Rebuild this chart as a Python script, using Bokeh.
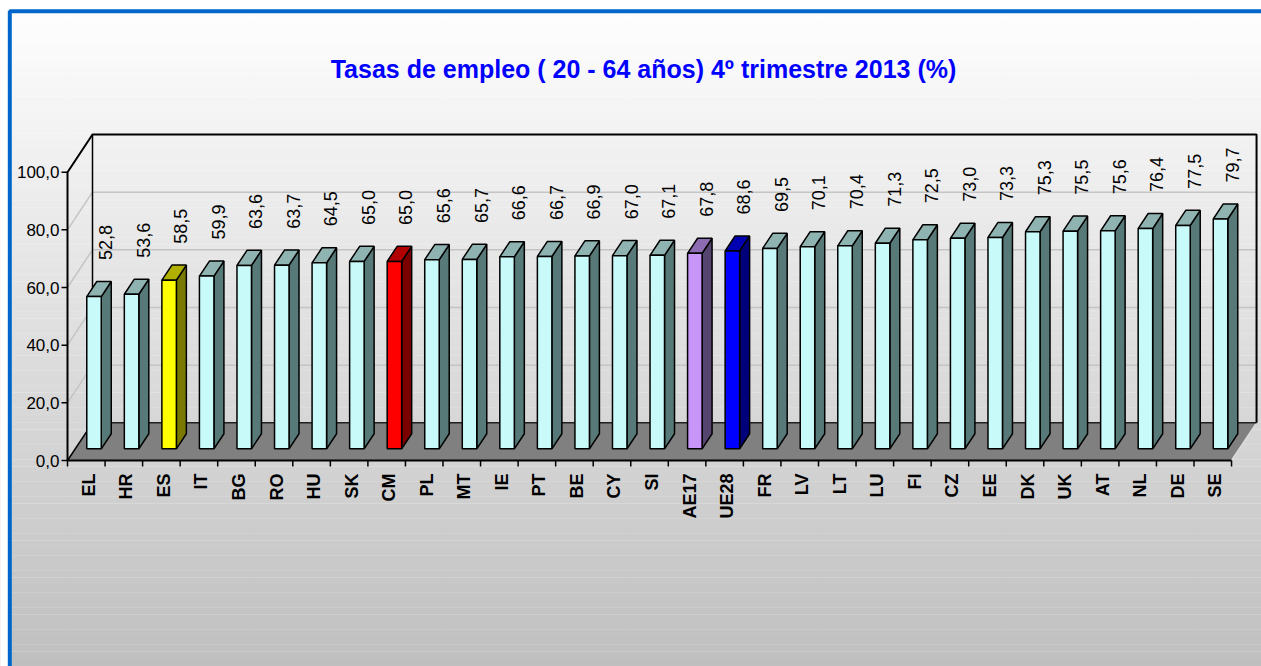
import math
from bokeh.plotting import figure
from bokeh.models import Range1d
from bokeh.embed import file_html
from bokeh.resources import INLINE
from bokeh.core.properties import value

# ---------------- data ----------------
countries = ["EL", "HR", "ES", "IT", "BG", "RO", "HU", "SK", "CM", "PL", "MT", "IE",
             "PT", "BE", "CY", "SI", "AE17", "UE28", "FR", "LV", "LT", "LU", "FI",
             "CZ", "EE", "DK", "UK", "AT", "NL", "DE", "SE"]
rates = [52.8, 53.6, 58.5, 59.9, 63.6, 63.7, 64.5, 65.0, 65.0, 65.6, 65.7, 66.6,
         66.7, 66.9, 67.0, 67.1, 67.8, 68.6, 69.5, 70.1, 70.4, 71.3, 72.5,
         73.0, 73.3, 75.3, 75.5, 75.6, 76.4, 77.5, 79.7]
highlight = {"ES": "yellow", "CM": "red", "AE17": "lavender", "UE28": "blue"}
y_ticks = [0, 20, 40, 60, 80, 100]
y_tick_labels = ["0,0", "20,0", "40,0", "60,0", "80,0", "100,0"]
title_text = "Tasas de empleo ( 20 - 64 años) 4º trimestre 2013 (%)"

# ---------------- layout (page pixels) ----------------
W, H = 1261, 666
OX, OY = 0, 0
X0_PX, CAT_PX = 67.0, 37.55        # front-left corner, width of a category slot
Y0_PX, VAL_PX = 460.0, 2.883       # front floor line, pixels per %
DEPTH_DX_PX, DEPTH_DY_PX = 25.0, 37.7
BAR_W = 0.386                      # in category units
BAR_D0, BAR_D1 = 0.31, 0.71        # depth fractions of bar front/back
YMAX = 100

DX = DEPTH_DX_PX / CAT_PX
DY = DEPTH_DY_PX / VAL_PX
N = len(countries)


def px_x(px):
    return (px - X0_PX) / CAT_PX


def px_y(py):
    return (Y0_PX - py) / VAL_PX


FONT = "Liberation Sans"

p = figure(width=W, height=H, output_backend="svg", toolbar_location=None,
           x_range=Range1d(px_x(OX), px_x(OX + W)),
           y_range=Range1d(px_y(OY + H), px_y(OY)),
           x_axis_location=None, y_axis_location=None, min_border=0)
p.outline_line_color = None
p.background_fill_color = "white"
p.border_fill_color = "white"

# ---------------- background gradient ----------------
nb = 90
tops, bots, cols = [], [], []
for i in range(nb):
    y_a = OY + H * i / nb
    y_b = OY + H * (i + 1) / nb
    t = ((y_a + y_b) / 2 - 10) / (666 - 10)
    g = int(round(254 - t * 63))
    g = max(0, min(255, g))
    tops.append(px_y(y_a))
    bots.append(px_y(y_b) - 0.05)
    cols.append("#%02x%02x%02x" % (g, g, g))
p.quad(left=px_x(OX), right=px_x(OX + W), top=tops, bottom=bots,
       fill_color=cols, line_color=None)
# white strip outside the chart frame (left / top)
p.quad(left=px_x(OX), right=px_x(8), top=px_y(OY), bottom=px_y(OY + H),
       fill_color="white", line_color=None)
p.quad(left=px_x(OX), right=px_x(OX + W), top=px_y(OY), bottom=px_y(9),
       fill_color="white", line_color=None)

# ---------------- walls, grid, floor ----------------
grid_vals = [v for v in y_ticks if 0 < v < YMAX]
p.segment(x0=[0] * len(grid_vals), y0=grid_vals,
          x1=[DX] * len(grid_vals), y1=[v + DY for v in grid_vals],
          line_color="#c4c4c4", line_width=1.5)
p.segment(x0=[DX] * len(grid_vals), y0=[v + DY for v in grid_vals],
          x1=[N + DX] * len(grid_vals), y1=[v + DY for v in grid_vals],
          line_color="#c4c4c4", line_width=1.5)

# floor
p.patch(x=[0, N, N + DX, DX], y=[0, 0, DY, DY], fill_color="#808080", line_color=None)
p.line(x=[N, N + DX], y=[0, DY], line_color="#dcdcdc", line_width=1.5)
p.line(x=[DX, N + DX], y=[DY, DY], line_color="#202020", line_width=1.5)

# wall outline (black)
p.line(x=[0, 0, DX, N + DX, N + DX], y=[0, YMAX, YMAX + DY, YMAX + DY, DY],
       line_color="black", line_width=2)
p.line(x=[DX, DX], y=[DY, YMAX + DY], line_color="black", line_width=1.5)
p.line(x=[0, DX], y=[0, DY], line_color="black", line_width=1.5)
p.line(x=[0, N], y=[0, 0], line_color="black", line_width=2)

# ---------------- axes (ticks + labels) ----------------
tick_len_x = 6 / CAT_PX
p.segment(x0=[-tick_len_x] * len(y_ticks), y0=y_ticks, x1=[0] * len(y_ticks), y1=y_ticks,
          line_color="black", line_width=1.5)
p.text(x=[px_x(59)] * len(y_ticks), y=y_ticks, text=y_tick_labels,
       text_font=value(FONT), text_font_size="17px", text_color="black",
       text_align="right", text_baseline="middle")

tick_len_y = 6 / VAL_PX
p.segment(x0=list(range(N + 1)), y0=[0] * (N + 1), x1=list(range(N + 1)),
          y1=[-tick_len_y] * (N + 1), line_color="black", line_width=1.5)
p.text(x=[k + 0.5 + 2.5 / CAT_PX for k in range(N)], y=[px_y(473)] * N, text=countries,
       angle=math.pi / 2, text_font=value(FONT), text_font_style="bold",
       text_font_size="18px", text_color="black",
       text_align="right", text_baseline="middle")

# ---------------- bars ----------------
palette = {
    "normal": ("#c8fafa", "#577977", "#8fb3b1"),
    "yellow": ("#ffff00", "#7a7a00", "#b0b000"),
    "red": ("#ff0000", "#7a0000", "#b00000"),
    "lavender": ("#c896f8", "#554470", "#8d6cb4"),
    "blue": ("#0000ff", "#00007a", "#0000b0"),
}

front_xs, front_ys, side_xs, side_ys, top_xs, top_ys = [], [], [], [], [], []
fc, sc, tc = [], [], []
lab_x, lab_y, lab_t = [], [], []
for k, (c, v) in enumerate(zip(countries, rates)):
    cx = k + 0.5
    xl, xr = cx - BAR_W / 2, cx + BAR_W / 2
    a0x, a0y = DX * BAR_D0, DY * BAR_D0
    a1x, a1y = DX * BAR_D1, DY * BAR_D1
    front_xs.append([xl + a0x, xr + a0x, xr + a0x, xl + a0x])
    front_ys.append([a0y, a0y, v + a0y, v + a0y])
    side_xs.append([xr + a0x, xr + a1x, xr + a1x, xr + a0x])
    side_ys.append([a0y, a1y, v + a1y, v + a0y])
    top_xs.append([xl + a0x, xr + a0x, xr + a1x, xl + a1x])
    top_ys.append([v + a0y, v + a0y, v + a1y, v + a1y])
    col = palette[highlight.get(c, "normal")]
    fc.append(col[0]); sc.append(col[1]); tc.append(col[2])
    lab_x.append(cx + a0x + 11.5 / CAT_PX)
    lab_y.append(v + a0y + 36.5 / VAL_PX)
    lab_t.append(("%.1f" % v).replace(".", ","))

p.patches(xs=side_xs, ys=side_ys, fill_color=sc, line_color="black", line_width=1.5)
p.patches(xs=top_xs, ys=top_ys, fill_color=tc, line_color="black", line_width=1.5)
p.patches(xs=front_xs, ys=front_ys, fill_color=fc, line_color="black", line_width=1.5)

p.text(x=lab_x, y=lab_y, text=lab_t, angle=math.pi / 2,
       text_font=value(FONT), text_font_size="18px", text_color="black",
       text_align="left", text_baseline="middle")

# ---------------- title ----------------
p.text(x=[px_x(643)], y=[px_y(68)], text=[title_text],
       text_font=value(FONT), text_font_style="bold", text_font_size="25px",
       text_color="#0000ff", text_align="center", text_baseline="middle")

# ---------------- frame border (blue) ----------------
p.line(x=[px_x(9.3), px_x(9.3), px_x(OX + W + 2)],
       y=[px_y(OY + H + 2), px_y(10.8), px_y(10.8)],
       line_color="#0066cc", line_width=4)

open("out.html", "w").write(file_html(p, INLINE))
